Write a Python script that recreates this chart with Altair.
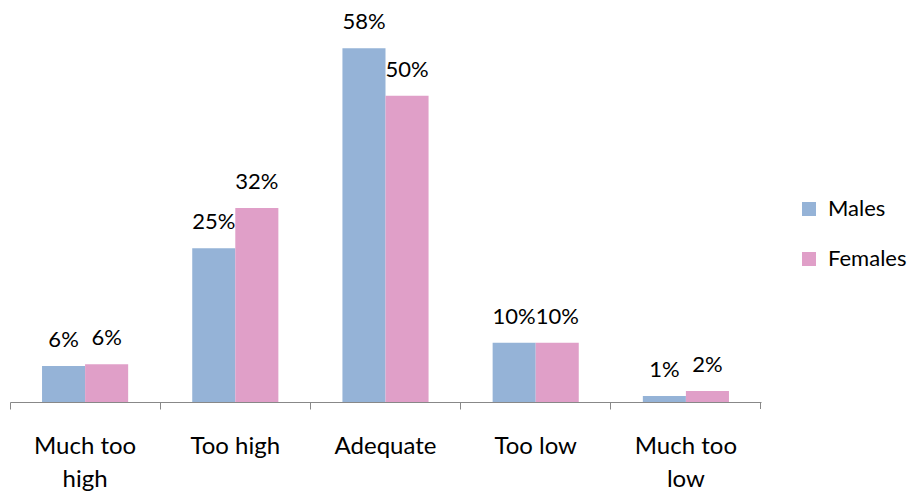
import altair as alt
import pandas as pd

categories = ["Much too high", "Too high", "Adequate", "Too low", "Much too low"]
males = [5.9, 25.2, 58.0, 9.7, 1.0]
females = [6.2, 31.8, 50.2, 9.7, 1.8]
male_labels = ["6%", "25%", "58%", "10%", "1%"]
female_labels = ["6%", "32%", "50%", "10%", "2%"]
series = ["Males", "Females"]
colors = ["#95B3D7", "#E09FC8"]

rows = []
for i, c in enumerate(categories):
    rows.append({"cat": c, "sex": "Males", "v": males[i], "lab": male_labels[i]})
    rows.append({"cat": c, "sex": "Females", "v": females[i], "lab": female_labels[i]})
df = pd.DataFrame(rows)

FONT = "Lato"
W, H = 751, 366

x = alt.X("cat:N", sort=categories, title=None,
          scale=alt.Scale(paddingInner=0, paddingOuter=0),
          axis=alt.Axis(bandPosition=0, labelAngle=0,
                        labelExpr="split(datum.label, ' ') [0] == 'Much' ? [slice(datum.label,0,8), slice(datum.label,9)] : datum.label",
                        labelFont=FONT, labelFontSize=24, labelColor="#000000",
                        labelPadding=25, labelLineHeight=33,
                        domainColor="#888888", tickColor="#888888", tickSize=7,
                        domainWidth=1, tickWidth=1, labelBaseline="top"))
xo = alt.XOffset("sex:N", sort=series,
                 scale=alt.Scale(paddingInner=0, paddingOuter=0.744))
y = alt.Y("v:Q", scale=alt.Scale(domain=[0, 60]), axis=None)

bars = alt.Chart(df).mark_bar().encode(
    x=x, xOffset=xo, y=y,
    color=alt.Color("sex:N", sort=series, title=None,
                    scale=alt.Scale(domain=series, range=colors),
                    legend=alt.Legend(orient="none", legendX=788, legendY=162,
                                      symbolType="square", symbolSize=196,
                                      symbolStrokeWidth=0, labelFont=FONT,
                                      labelFontSize=22, labelColor="#000000",
                                      rowPadding=28, labelOffset=8)),
)

text = alt.Chart(df).mark_text(baseline="bottom", dy=-14, font=FONT, fontSize=22,
                               color="#000000").encode(
    x=x, xOffset=xo, y=y, text="lab:N")

last_tick = alt.Chart(pd.DataFrame({"a": [0]})).mark_rule(color="#888888").encode(
    x=alt.value(W - 0.5), y=alt.value(H), y2=alt.value(H + 7))

chart = alt.layer(bars, text, last_tick).properties(
    width=W, height=H,
    autosize=alt.AutoSizeParams(type="none"),
    padding={"left": 2, "top": 28, "right": 149, "bottom": 91},
).configure_view(stroke=None)

chart.save("out.html", embed_options={"renderer": "svg", "actions": False})
